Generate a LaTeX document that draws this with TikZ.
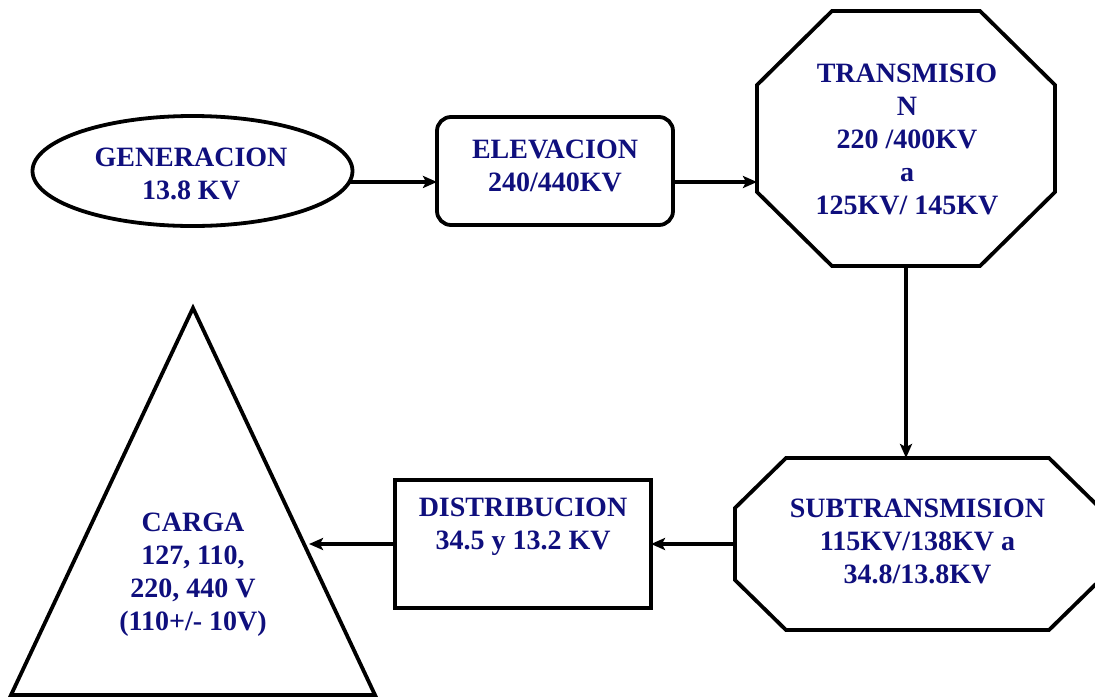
\documentclass[tikz,border=0pt]{standalone}
\usepackage{fontspec}
\setmainfont{Liberation Serif}
\usetikzlibrary{arrows.meta,calc,shapes.geometric}
\definecolor{labelblue}{RGB}{15,15,125}

% octagon outline drawn around a rectangular node: #2 = horizontal chamfer, #3 = vertical chamfer
\newcommand\octoutline[3]{%
  \draw[outline] ($(#1.north west)+(#2,0)$) -- ($(#1.north east)+(-#2,0)$)
    -- ($(#1.north east)+(0,#3)$) -- ($(#1.south east)+(0,-#3)$)
    -- ($(#1.south east)+(-#2,0)$) -- ($(#1.south west)+(#2,0)$)
    -- ($(#1.south west)+(0,-#3)$) -- ($(#1.north west)+(0,#3)$) -- cycle;}

\begin{document}
\begin{tikzpicture}[x=1pt,y=-1pt,
  outline/.style={draw=black,line width=3.8pt,line join=miter},
  frame/.style={outline,inner sep=0pt,outer sep=0pt},
  area/.style={draw=none,inner sep=0pt,outer sep=0pt},
  txt/.style={text=labelblue,font=\bfseries\fontsize{28}{33}\selectfont,align=center,inner sep=0pt},
  conn/.style={draw=black,line width=3.6pt,-{Stealth[length=14pt,width=12pt,inset=3pt]}}
]
\useasboundingbox (0,0) rectangle (1095,697);
\clip (0,0) rectangle (1095,697);

% generation
\node[frame,ellipse,minimum width=320pt,minimum height=110pt] (gen) at (192.5,171) {};
\node[txt] (gentxt) at (191,174) {GENERACION\\13.8 KV};

% step-up
\node[frame,rounded corners=14pt,minimum width=236pt,minimum height=108pt] (elev) at (555,171) {};
\node[txt] (elevtxt) at (555,166) {ELEVACION\\240/440KV};

% transmission
\node[area,minimum width=298pt,minimum height=255pt] (trans) at (906,138.5) {};
\octoutline{trans}{75}{74}
\node[txt] (transtxt) at (907,139) {TRANSMISIO\\N\\220 /400KV\\a\\125KV/ 145KV};

% subtransmission
\node[area,minimum width=365pt,minimum height=172pt] (subt) at (917.5,544) {};
\octoutline{subt}{51}{50}
\node[txt] (subttxt) at (917.5,541) {SUBTRANSMISION\\115KV/138KV a\\34.8/13.8KV};

% distribution
\node[frame,minimum width=256pt,minimum height=128pt] (dist) at (523,544) {};
\node[txt] (disttxt) at (523,527) {DISTRIBUCION\\34.5 y 13.2 KV};

% load
\coordinate (ctop) at (193,308);
\coordinate (cleft) at (11,695);
\coordinate (cright) at (375,695);
\draw[outline] (ctop) -- (cright) -- (cleft) -- cycle;
\node[txt] (carga) at (193,575) {CARGA\\127, 110,\\220, 440 V\\(110+/- 10V)};
\coordinate (cargain) at (309,544);

% connectors
\draw[conn] (gen.-4) -- (gen.-4 -| elev.west);
\draw[conn] ([yshift=-11pt]elev.east) -- ([yshift=-11pt]elev.east -| trans.west);
\draw[conn] (trans.south) -- (trans.south |- subt.north);
\draw[conn] (subt.west) -- (dist.east);
\draw[conn] (dist.west) -- (cargain);
\end{tikzpicture}
\end{document}
